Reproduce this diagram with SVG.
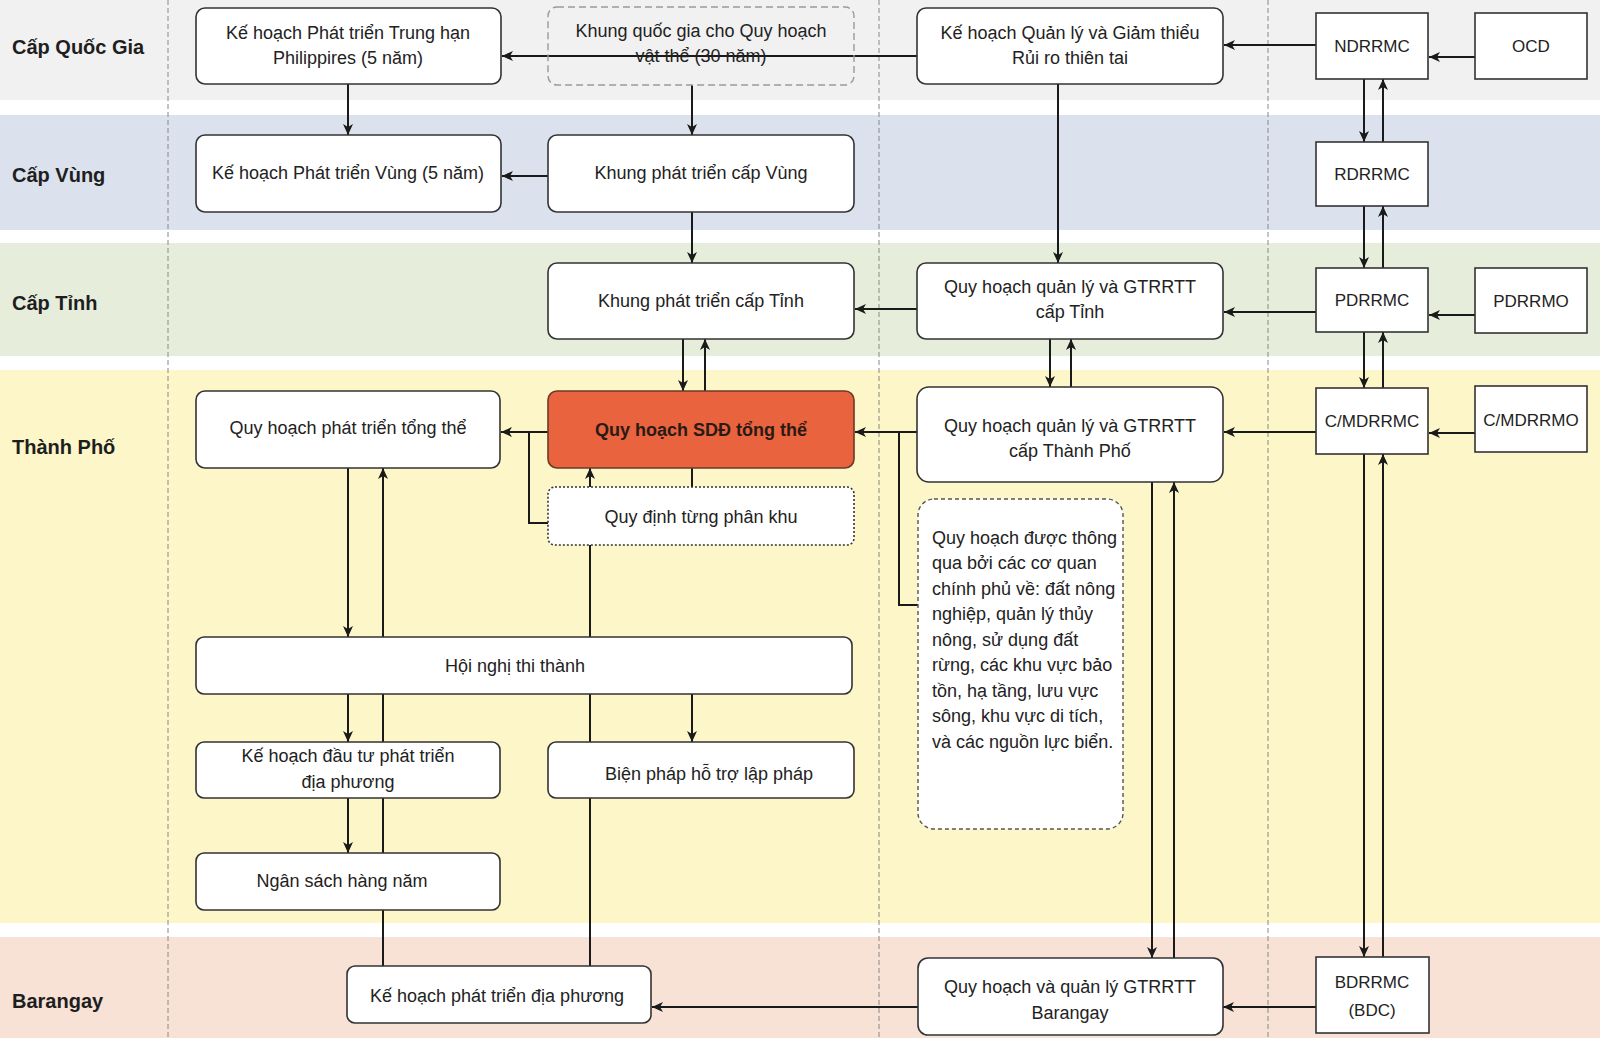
<svg xmlns="http://www.w3.org/2000/svg" width="1600" height="1038" viewBox="0 0 1600 1038">
<defs>
<marker id="ah" markerUnits="userSpaceOnUse" markerWidth="12" markerHeight="10" refX="11" refY="5" orient="auto">
<path d="M0,0 L11,5 L0,10 L3,5 z" fill="#1a1a1a"/>
</marker>
<style>
.lane-label{font-family:"Liberation Sans",Arial,sans-serif;font-size:20px;font-weight:bold;fill:#1e1e1e}
.t{font-family:"Liberation Sans",Arial,sans-serif;font-size:18px;fill:#222;text-anchor:middle}
.tl{font-family:"Liberation Sans",Arial,sans-serif;font-size:18px;fill:#222}
.ts{font-family:"Liberation Sans",Arial,sans-serif;font-size:17px;fill:#222;text-anchor:middle}
.tb{font-family:"Liberation Sans",Arial,sans-serif;font-size:18px;font-weight:bold;fill:#2a1a14;text-anchor:middle}
.box{fill:#fff;stroke:#333;stroke-width:1.6}
.sq{fill:#fff;stroke:#333;stroke-width:1.6}
.dash{fill:none;stroke:#9a9a9a;stroke-width:1.4;stroke-dasharray:7 4}
.dot{fill:#fff;stroke:#333;stroke-width:1.6;stroke-dasharray:2 2}
.note{fill:#fff;stroke:#555;stroke-width:1.4;stroke-dasharray:4 3}
.hot{fill:#e8633e;stroke:#6a3a2a;stroke-width:1.6}
.vsep{stroke:#888;stroke-width:1;stroke-dasharray:5 3}
.c{fill:none;stroke:#1a1a1a;stroke-width:2}
.ca{fill:none;stroke:#1a1a1a;stroke-width:2;marker-end:url(#ah)}
</style>
</defs>

<g id="lanes">
<rect x="0" y="0" width="1600" height="100" fill="#f1f1f1"/>
<rect x="0" y="115" width="1600" height="115" fill="#dbe2ed"/>
<rect x="0" y="243" width="1600" height="113" fill="#e6eedb"/>
<rect x="0" y="370" width="1600" height="553" fill="#fcf6c8"/>
<rect x="0" y="937" width="1600" height="101" fill="#f7e2d5"/>
<text class="lane-label" x="12" y="54">Cấp Quốc Gia</text>
<text class="lane-label" x="12" y="182">Cấp Vùng</text>
<text class="lane-label" x="12" y="310">Cấp Tỉnh</text>
<text class="lane-label" x="12" y="454">Thành Phố</text>
<text class="lane-label" x="12" y="1008">Barangay</text>
<line class="vsep" x1="168" y1="0" x2="168" y2="1038"/>
<line class="vsep" x1="879" y1="0" x2="879" y2="1038"/>
<line class="vsep" x1="1268" y1="0" x2="1268" y2="1038"/>
</g>

<g id="connectors">
<path class="ca" d="M1475,57 H1429"/>
<path class="ca" d="M1316,45 H1224"/>
<path class="ca" d="M1364,79 V142"/>
<path class="ca" d="M1383,142 V79"/>
<path class="ca" d="M1364,206 V268"/>
<path class="ca" d="M1383,268 V206"/>
<path class="ca" d="M1475,315 H1429"/>
<path class="ca" d="M1316,312 H1224"/>
<path class="ca" d="M1364,332 V388"/>
<path class="ca" d="M1383,388 V332"/>
<path class="ca" d="M1475,433 H1429"/>
<path class="ca" d="M1316,432 H1224"/>
<path class="ca" d="M1364,454 V957"/>
<path class="ca" d="M1383,957 V454"/>
<path class="ca" d="M1316,1007 H1223"/>
<path class="ca" d="M918,1007 H652"/>
<path class="ca" d="M1152,482 V958"/>
<path class="ca" d="M1174,958 V482"/>
<path class="ca" d="M1058,84 V263"/>
<path class="ca" d="M1050,339 V387"/>
<path class="ca" d="M1071,387 V339"/>
<path class="ca" d="M917,309 H855"/>
<path class="ca" d="M917,432 H855"/>
<path class="c" d="M899,432 V605 H918"/>
<path class="ca" d="M917,56 H502"/>
<path class="ca" d="M348,84 V135"/>
<path class="ca" d="M692,85 V135"/>
<path class="ca" d="M548,176 H502"/>
<path class="ca" d="M692,212 V263"/>
<path class="ca" d="M683,339 V391"/>
<path class="ca" d="M705,391 V339"/>
<path class="ca" d="M548,432 H501"/>
<path class="c" d="M548,523 H529 V432"/>
<path class="ca" d="M590,966 V468"/>
<path class="c" d="M692,468 V487"/>
<path class="ca" d="M348,468 V637"/>
<path class="ca" d="M383,966 V468"/>
<path class="ca" d="M348,694 V742"/>
<path class="ca" d="M348,798 V853"/>
<path class="ca" d="M692,694 V742"/>
</g>

<g id="n-kh-trung-han">
<rect class="box" x="196" y="8" width="305" height="76" rx="9"/>
<text class="t" x="348" y="39">Kế hoạch Phát triển Trung hạn</text>
<text class="t" x="348" y="64">Philippires (5 năm)</text>
</g>
<g id="n-khung-quoc-gia">
<rect class="dash" x="548" y="7" width="306" height="78" rx="9"/>
<text class="t" x="701" y="37">Khung quốc gia cho Quy hoạch</text>
<text class="t" x="701" y="62">vật thể (30 năm)</text>
</g>
<g id="n-kh-quan-ly">
<rect class="box" x="917" y="8" width="306" height="76" rx="9"/>
<text class="t" x="1070" y="39">Kế hoạch Quản lý và Giảm thiểu</text>
<text class="t" x="1070" y="64">Rủi ro thiên tai</text>
</g>
<g id="n-ndrrmc">
<rect class="sq" x="1316" y="13" width="112" height="66"/>
<text class="ts" x="1372" y="52">NDRRMC</text>
</g>
<g id="n-ocd">
<rect class="sq" x="1475" y="13" width="112" height="66"/>
<text class="ts" x="1531" y="52">OCD</text>
</g>

<g id="n-kh-vung">
<rect class="box" x="196" y="135" width="305" height="77" rx="9"/>
<text class="t" x="348" y="179">Kế hoạch Phát triển Vùng (5 năm)</text>
</g>
<g id="n-khung-vung">
<rect class="box" x="548" y="135" width="306" height="77" rx="9"/>
<text class="t" x="701" y="179">Khung phát triển cấp Vùng</text>
</g>
<g id="n-rdrrmc">
<rect class="sq" x="1316" y="142" width="112" height="64"/>
<text class="ts" x="1372" y="180">RDRRMC</text>
</g>

<g id="n-khung-tinh">
<rect class="box" x="548" y="263" width="306" height="76" rx="9"/>
<text class="t" x="701" y="307">Khung phát triển cấp Tỉnh</text>
</g>
<g id="n-ql-tinh">
<rect class="box" x="917" y="263" width="306" height="76" rx="9"/>
<text class="t" x="1070" y="293">Quy hoạch quản lý và GTRRTT</text>
<text class="t" x="1070" y="318">cấp Tỉnh</text>
</g>
<g id="n-pdrrmc">
<rect class="sq" x="1316" y="268" width="112" height="64"/>
<text class="ts" x="1372" y="306">PDRRMC</text>
</g>
<g id="n-pdrrmo">
<rect class="sq" x="1475" y="268" width="112" height="65"/>
<text class="ts" x="1531" y="307">PDRRMO</text>
</g>

<g id="n-qh-phat-trien">
<rect class="box" x="196" y="391" width="304" height="77" rx="9"/>
<text class="t" x="348" y="434">Quy hoạch phát triển tổng thể</text>
</g>
<g id="n-qh-sdd">
<rect class="hot" x="548" y="391" width="306" height="77" rx="9"/>
<text class="tb" x="701" y="436">Quy hoạch SDĐ tổng thể</text>
</g>
<g id="n-phan-khu">
<rect class="dot" x="548" y="487" width="306" height="58" rx="7"/>
<text class="t" x="701" y="523">Quy định từng phân khu</text>
</g>
<g id="n-ql-thanh-pho">
<rect class="box" x="917" y="387" width="306" height="95" rx="12"/>
<text class="t" x="1070" y="432">Quy hoạch quản lý và GTRRTT</text>
<text class="t" x="1070" y="457">cấp Thành Phố</text>
</g>
<g id="n-cmdrrmc">
<rect class="sq" x="1316" y="388" width="112" height="66"/>
<text class="ts" x="1372" y="427">C/MDRRMC</text>
</g>
<g id="n-cmdrrmo">
<rect class="sq" x="1475" y="386" width="112" height="66"/>
<text class="ts" x="1531" y="426">C/MDRRMO</text>
</g>
<g id="n-note">
<rect class="note" x="918" y="499" width="205" height="330" rx="16"/>
<text class="tl" x="932" y="544">Quy hoạch được thông</text>
<text class="tl" x="932" y="569">qua bởi các cơ quan</text>
<text class="tl" x="932" y="595">chính phủ về: đất nông</text>
<text class="tl" x="932" y="620">nghiệp, quản lý thủy</text>
<text class="tl" x="932" y="646">nông, sử dụng đất</text>
<text class="tl" x="932" y="671">rừng, các khu vực bảo</text>
<text class="tl" x="932" y="697">tồn, hạ tầng, lưu vực</text>
<text class="tl" x="932" y="722">sông, khu vực di tích,</text>
<text class="tl" x="932" y="748">và các nguồn lực biển.</text>
</g>
<g id="n-hoi-nghi">
<rect class="box" x="196" y="637" width="656" height="57" rx="8"/>
<text class="t" x="515" y="672">Hội nghị thi thành</text>
</g>
<g id="n-kh-dau-tu">
<rect class="box" x="196" y="742" width="304" height="56" rx="8"/>
<text class="t" x="348" y="762">Kế hoạch đầu tư phát triển</text>
<text class="t" x="348" y="788">địa phương</text>
</g>
<g id="n-bien-phap">
<rect class="box" x="548" y="742" width="306" height="56" rx="8"/>
<text class="t" x="709" y="780">Biện pháp hỗ trợ lập pháp</text>
</g>
<g id="n-ngan-sach">
<rect class="box" x="196" y="853" width="304" height="57" rx="8"/>
<text class="t" x="342" y="887">Ngân sách hàng năm</text>
</g>

<g id="n-kh-dia-phuong">
<rect class="box" x="347" y="966" width="304" height="57" rx="8"/>
<text class="t" x="497" y="1002">Kế hoạch phát triển địa phương</text>
</g>
<g id="n-ql-barangay">
<rect class="box" x="918" y="958" width="305" height="77" rx="10"/>
<text class="t" x="1070" y="993">Quy hoạch và quản lý GTRRTT</text>
<text class="t" x="1070" y="1019">Barangay</text>
</g>
<g id="n-bdrrmc">
<rect class="sq" x="1316" y="957" width="113" height="76"/>
<text class="ts" x="1372" y="988">BDRRMC</text>
<text class="ts" x="1372" y="1016">(BDC)</text>
</g>
</svg>
